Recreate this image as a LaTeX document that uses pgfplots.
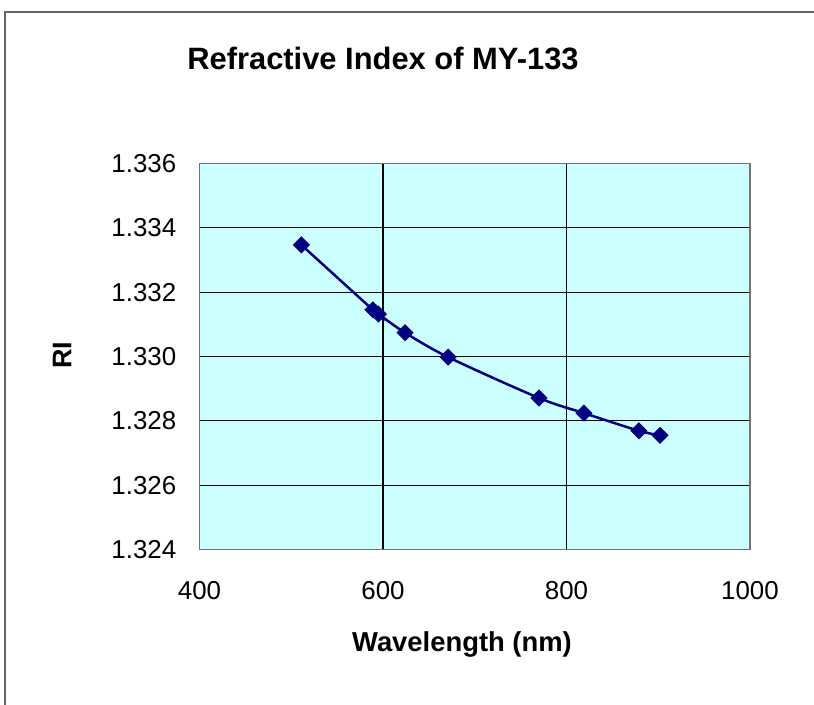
\documentclass[border=0pt]{standalone}
\usepackage{fontspec}
\setmainfont{Liberation Sans}
\usepackage{pgfplots}
\pgfplotsset{compat=1.18}
\definecolor{plotbg}{HTML}{CCFFFF}
\definecolor{navyc}{HTML}{000080}
\begin{document}
\begin{tikzpicture}
\useasboundingbox (0bp,0bp) rectangle (814bp,705bp);
\draw[line width=1.5bp, color=black!60] (5bp,-20bp) -- (5bp,693bp) -- (840bp,693bp);
\begin{axis}[
  at={(199.5bp,155.5bp)}, anchor=south west, scale only axis,
  width=550.5bp, height=386bp,
  xmin=400, xmax=1000, ymin=1.324, ymax=1.336,
  xtick={400,600,800,1000},
  ytick={1.324,1.326,1.328,1.330,1.332,1.334,1.336},
  axis background/.style={fill=plotbg},
  grid=major, major grid style={black, line width=1.2bp},
  axis line style={draw=black!55, line width=1.8bp},
  major tick length=0pt,
  scaled y ticks=false,
  /pgf/number format/assume math mode=true,
  /pgf/number format/set thousands separator={},
  yticklabel style={/pgf/number format/.cd, fixed, fixed zerofill, precision=3, /tikz/.cd,
    font=\fontsize{26}{31}\selectfont, inner sep=0pt, anchor=east, xshift=-23bp},
  xticklabel style={font=\fontsize{26}{31}\selectfont, inner sep=0pt, anchor=north, yshift=-32bp},
]
\addplot[navyc, line width=2.5bp, smooth, mark=square*, mark size=4.8bp,
  mark options={fill=navyc, draw=navyc, rotate=45, solid}] coordinates {
  (511,1.33347)
  (589,1.33145)
  (595,1.33132)
  (624,1.33074)
  (671,1.32998)
  (770,1.32871)
  (819,1.32824)
  (879,1.32769)
  (902,1.32755)
};
\end{axis}
\node[font=\bfseries\fontsize{31}{37}\selectfont, anchor=base] at (383bp,635bp) {Refractive Index of MY-133};
\node[font=\bfseries\fontsize{27.5}{33}\selectfont, anchor=base] at (462bp,53bp) {Wavelength (nm)};
\node[font=\bfseries\fontsize{27}{32}\selectfont, rotate=90, anchor=center] at (62bp,350bp) {RI};
\end{tikzpicture}
\end{document}
